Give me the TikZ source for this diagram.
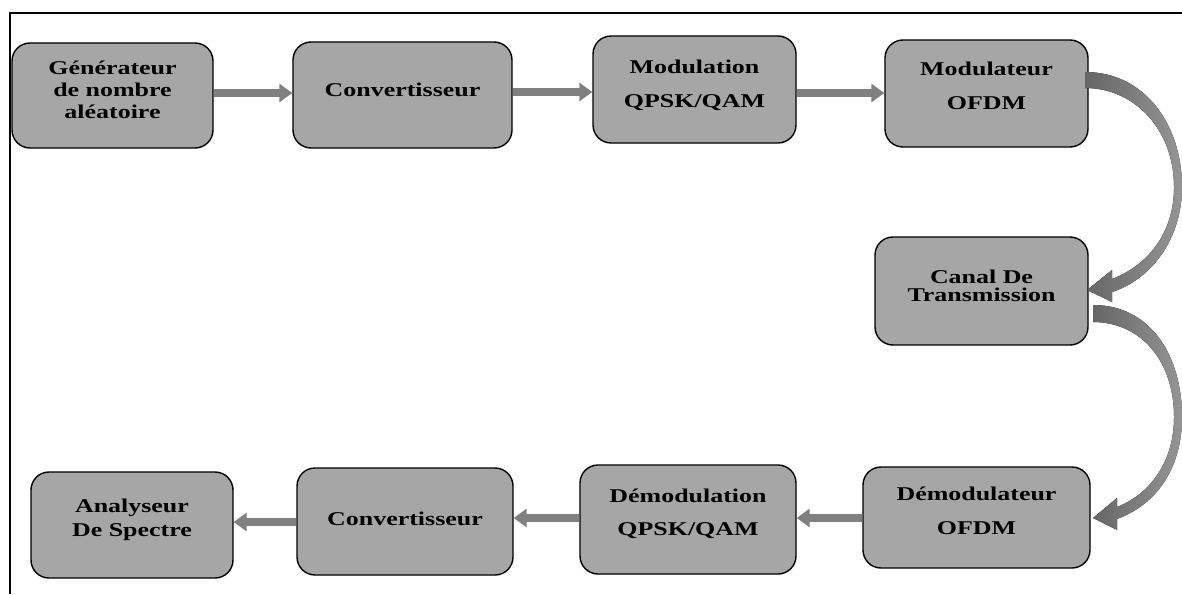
\documentclass[tikz,border=0pt]{standalone}
\usepackage{fontspec}
\setmainfont{Liberation Serif}[FakeStretch=1.33]
\usetikzlibrary{arrows.meta}
\definecolor{boxgray}{HTML}{A6A6A6}
\definecolor{arrowgray}{HTML}{808080}
\definecolor{benddark}{HTML}{666666}
\definecolor{bendlight}{HTML}{959595}

\begin{document}
\begin{tikzpicture}[x=1pt,y=-1pt,
  block/.style={draw=black, line width=1.4pt, fill=boxgray, rounded corners=18pt, inner sep=0pt},
  caption/.style={font=\bfseries\fontsize{19.5}{22}\selectfont, align=center, inner sep=0pt},
  flow/.style={draw=arrowgray, line width=8pt, -{Triangle[length=13pt,width=18pt]}},
  curvedarrow/.style={left color=benddark, right color=bendlight, draw=none},
]
\useasboundingbox (0,0) rectangle (1182,594);

% frame
\draw[line width=2pt] (10,594) -- (10,13) -- (1182,13);

% transmitter chain
\node[block, minimum width=201pt, minimum height=105pt] (b1) at (112.5,95.5) {};
\node[caption] (t1) at (112.5,90) {Générateur\\de nombre\\aléatoire};
\node[block, minimum width=219pt, minimum height=106pt] (b2) at (402.5,95) {};
\node[caption] (t2) at (402.5,90) {Convertisseur};
\node[block, minimum width=203pt, minimum height=107pt] (b3) at (694.5,89.5) {};
\node[caption] (t3) at (694.5,85) {Modulation\\[12pt]QPSK/QAM};
\node[block, minimum width=203pt, minimum height=107pt] (b4) at (986.5,93.5) {};
\node[caption] (t4) at (986.5,85.5) {Modulateur\\[12pt]OFDM};

% channel
\node[block, minimum width=213pt, minimum height=108pt] (b5) at (981.5,291) {};
\node[caption, font=\bfseries\fontsize{19.5}{18.5}\selectfont] (t5) at (981.5,286) {Canal De\\Transmission};

% receiver chain
\node[block, minimum width=227pt, minimum height=101pt] (b6) at (976.5,517.5) {};
\node[caption] (t6) at (976.5,510.5) {Démodulateur\\[12pt]OFDM};
\node[block, minimum width=216pt, minimum height=109pt] (b7) at (688,519.5) {};
\node[caption] (t7) at (688,513.5) {Démodulation\\[11pt]QPSK/QAM};
\node[block, minimum width=216pt, minimum height=107pt] (b8) at (405,521.5) {};
\node[caption] (t8) at (405,519) {Convertisseur};
\node[block, minimum width=202pt, minimum height=106pt] (b9) at (132,525) {};
\node[caption, font=\bfseries\fontsize{19.5}{24}\selectfont] (t9) at (132,520) {Analyseur\\De Spectre};

% straight connectors
\draw[flow] ([yshift=2.5pt]b1.east) -- ([yshift=2pt]b2.west);
\draw[flow] ([yshift=3pt]b2.east) -- ([yshift=-2.5pt]b3.west);
\draw[flow] ([yshift=-3.5pt]b3.east) -- ([yshift=0.5pt]b4.west);
\draw[flow] ([yshift=-0.5pt]b6.west) -- ([yshift=1.5pt]b7.east);
\draw[flow] ([yshift=1.5pt]b7.west) -- ([yshift=3.5pt]b8.east);
\draw[flow] ([yshift=-0.5pt]b8.west) -- ([yshift=3pt]b9.east);

% curved block arrows on the right side
\fill[curvedarrow] (1085,72) .. controls (1145,72) and (1182,125) .. (1182,187)
  .. controls (1182,240) and (1150,280) .. (1112,292)
  -- (1112,302) -- (1087,290) -- (1112,270) -- (1112,279)
  .. controls (1146,266) and (1174,235) .. (1174,187)
  .. controls (1174,130) and (1135,88) .. (1085,88) -- cycle;
\fill[curvedarrow] (1093,305) .. controls (1150,305) and (1182,355) .. (1182,417)
  .. controls (1182,470) and (1155,505) .. (1117,519)
  -- (1117,530) -- (1093,518) -- (1117,498) -- (1117,507)
  .. controls (1150,494) and (1174,462) .. (1174,417)
  .. controls (1174,360) and (1140,322) .. (1093,322) -- cycle;
\end{tikzpicture}
\end{document}
